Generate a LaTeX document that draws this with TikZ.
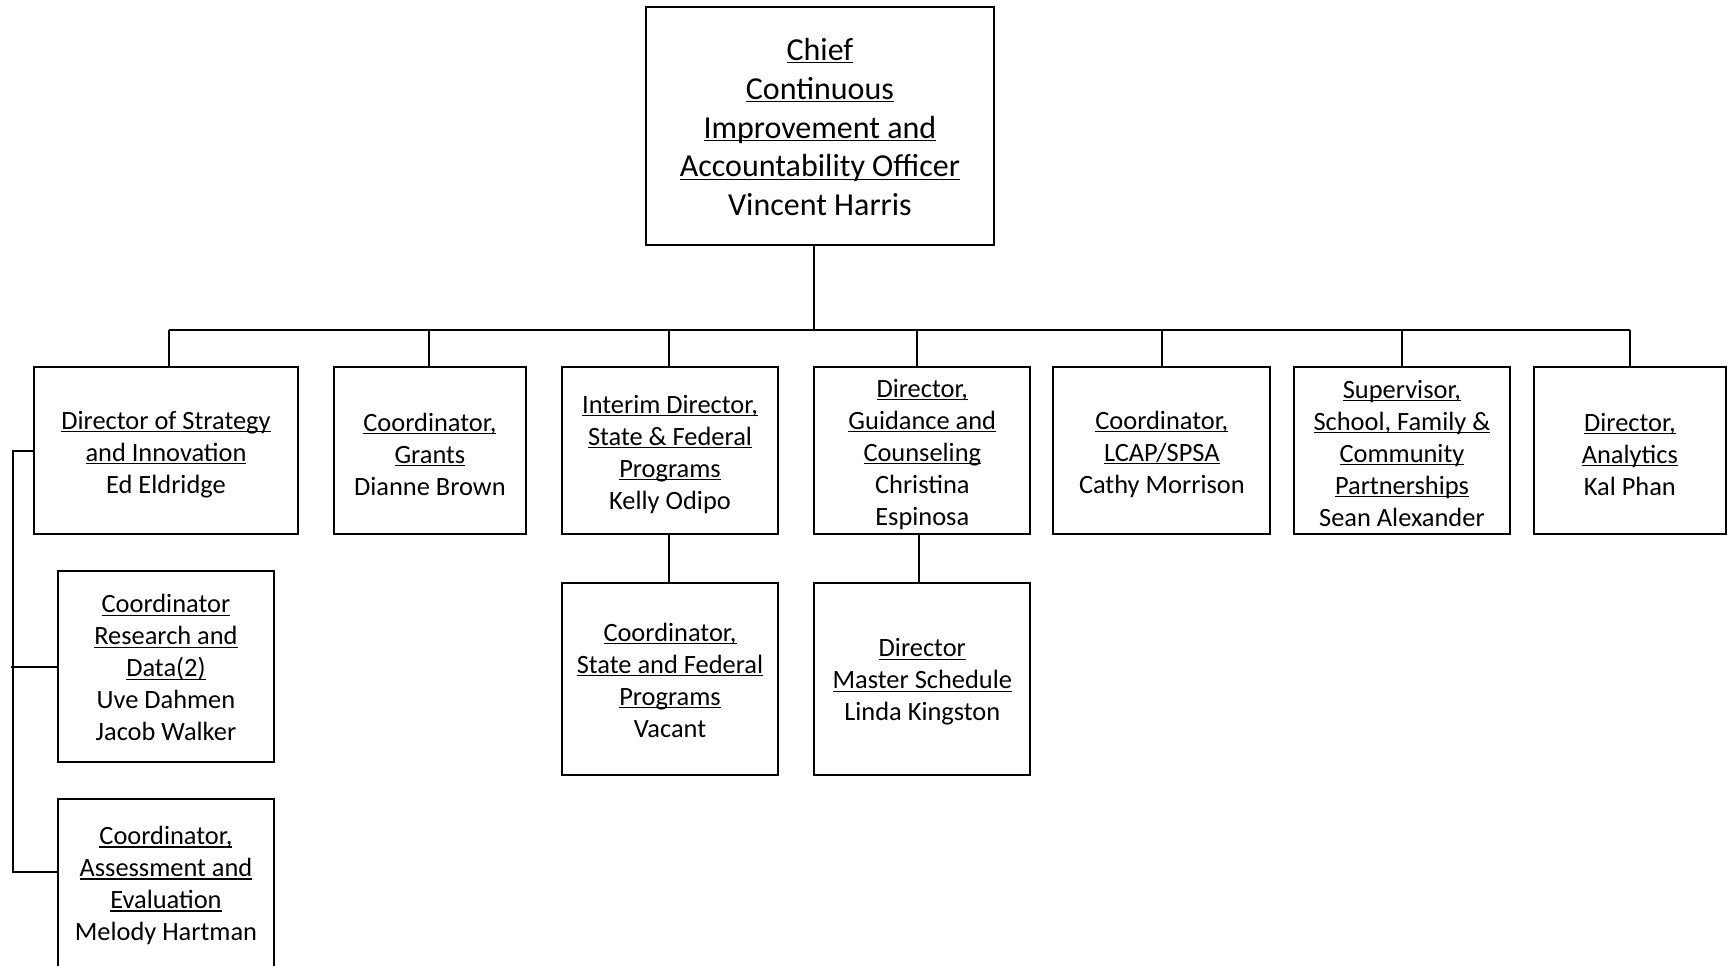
\documentclass[tikz,border=0pt]{standalone}
\usepackage{fontspec}
\setmainfont{Carlito}
\newsavebox\ulxbox
\newcommand\uline[1]{\leavevmode\sbox\ulxbox{#1}\rlap{\rule[-1.4pt]{\wd\ulxbox}{0.55pt}}\usebox\ulxbox}
\tikzset{
  orgbox/.style={draw=black, line width=1pt, inner sep=0pt},
  orgtext/.style={inner sep=0pt, align=center, font=\fontsize{13.2}{16}\selectfont},
  chiefbox/.style={font=\fontsize{16}{19.4}\selectfont},
  link/.style={line width=1pt, draw=black},
}
% \obox[text style]{name}{x1}{y1}{x2}{y2}{text}{text shift (px)}
\newcommand\obox[8][]{%
  \node[orgbox,minimum width={(#5-#3)*0.5pt},minimum height={(#6-#4)*0.5pt}]
    (#2) at ({(#3+#5)/2},{(#4+#6)/2}) {};
  \node[orgtext,#1] (#2-t) at ([yshift=-#8*0.5pt]#2.center) {#7};}
\begin{document}
\begin{tikzpicture}[x=0.5pt,y=-0.5pt]
\useasboundingbox (0,0) rectangle (1735,965);
\clip (0,0) rectangle (1735,965);
\fill[white] (0,0) rectangle (1735,965);

\obox[chiefbox]{chief}{646.2}{6.6}{993.6}{244.5}{\uline{Chief}\\\uline{Continuous}\\\uline{Improvement and}\\\uline{Accountability Officer}\\Vincent Harris}{1.5}

\obox{b1}{34.3}{367.4}{297.7}{534.4}{\uline{Director of Strategy}\\\uline{and Innovation}\\Ed Eldridge}{3.3}
\obox{b2}{334.2}{367.4}{525.6}{534.4}{\uline{Coordinator,}\\\uline{Grants}\\Dianne Brown}{3.3}
\obox{b3}{562.1}{367.4}{777.9}{534.4}{\uline{Interim Director,}\\\uline{State \& Federal}\\\uline{Programs}\\Kelly Odipo}{3.3}
\obox{b4}{814.4}{367.4}{1030.2}{534.4}{\uline{Director,}\\\uline{Guidance and}\\\uline{Counseling}\\Christina\\Espinosa}{3.3}
\obox{b5}{1053.4}{367.4}{1270.3}{534.4}{\uline{Coordinator,}\\\uline{LCAP/SPSA}\\Cathy Morrison}{3.3}
\obox{b6}{1293.5}{367.4}{1510.4}{534.4}{\uline{Supervisor,}\\\uline{School, Family \&}\\\uline{Community}\\\uline{Partnerships}\\Sean Alexander}{2.2}
\obox{b7}{1533.6}{367.4}{1726.1}{534.4}{\uline{Director,}\\\uline{Analytics}\\Kal Phan}{3.3}

\obox{rd}{57.5}{571}{274.4}{762.4}{\uline{Coordinator}\\\uline{Research and}\\\uline{Data(2)}\\Uve Dahmen\\Jacob Walker}{1.2}
\obox{ae}{57.5}{798.9}{274.4}{970}{\uline{Coordinator,}\\\uline{Assessment and}\\\uline{Evaluation}\\Melody Hartman}{1.2}

\obox{c3}{562.1}{583.1}{777.9}{774.6}{\uline{Coordinator,}\\\uline{State and Federal}\\\uline{Programs}\\Vacant}{1.2}
\obox{c4}{814.4}{583.1}{1030.2}{774.6}{\uline{Director}\\\uline{Master Schedule}\\Linda Kingston}{3.3}

% top tree
\coordinate (bar) at (814.4,330);
\coordinate (j1) at (169.3,330);
\coordinate (j2) at (429.3,330);
\coordinate (j3) at (669.4,330);
\coordinate (j4) at (916.7,330);
\coordinate (j5) at (1161.8,330);
\coordinate (j6) at (1402,330);
\coordinate (j7) at (1629.9,330);
\draw[link] (chief.south -| bar) -- (bar);
\draw[link] (j1) -- (j7);
\foreach \j/\b in {j1/b1,j2/b2,j3/b3,j4/b4,j5/b5,j6/b6,j7/b7}
  \draw[link] (\j) -- (\j |- \b.north);

% sub links
\coordinate (k3) at (669.4,0);
\coordinate (k4) at (918.6,0);
\draw[link] (k3 |- b3.south) -- (k3 |- c3.north);
\draw[link] (k4 |- b4.south) -- (k4 |- c4.north);

% left column
\coordinate (lc) at (13.3,0);
\coordinate (lcs) at (11,0);
\coordinate (aej) at (13.3,871.9);
\draw[link] (b1.west) -- (lc |- b1.west) -- (aej) -- (aej -| ae.west);
\draw[link] (lcs |- rd.west) -- (rd.west);
\end{tikzpicture}
\end{document}
